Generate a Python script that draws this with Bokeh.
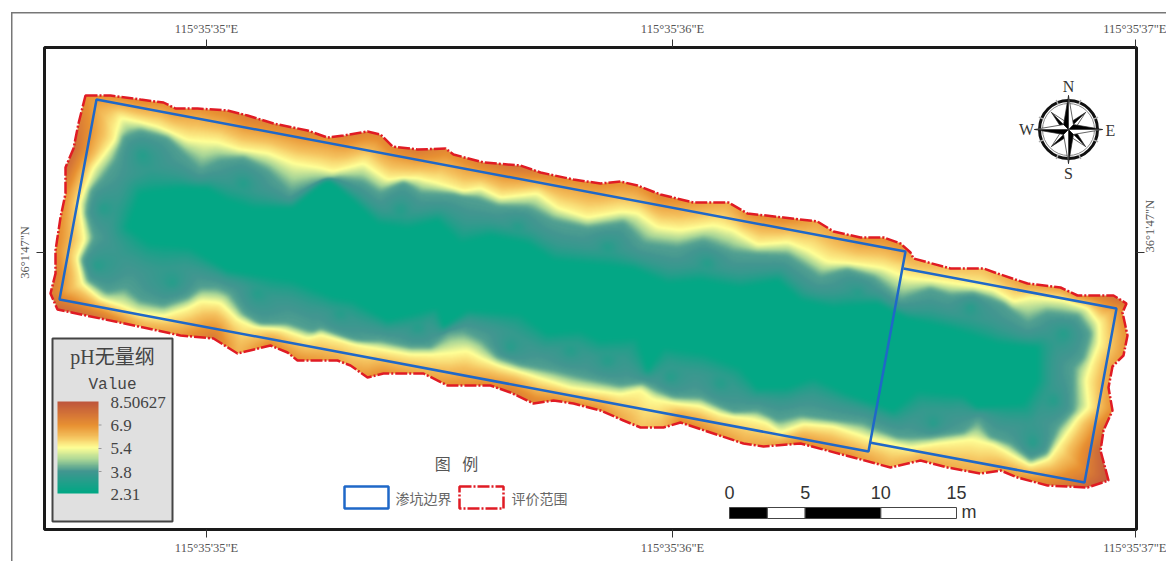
import numpy as np
from bokeh.plotting import figure
from bokeh.embed import file_html
from bokeh.resources import INLINE
from bokeh.core.properties import value
from bokeh.models import Range1d, LinearAxis, FixedTicker, LinearColorMapper

# ---- data (map position x, y and pH) ----
boundary_x = [85,110,140,163,175,197,227,247,273,307,327,343,367,380,392,417,445,453,483,520,540,573,600,620,
              637,660,693,728,747,783,817,833,860,883,900,910,913,950,983,997,1027,1060,1077,1113,1126,1122,1127,1123,1112,1108,1112,1103,1100,1108,1087,1047,1017,1000,980,947,920,890,
              853,800,763,743,713,680,663,640,623,600,573,553,533,510,490,447,423,383,367,350,337,
              297,287,270,237,213,180,143,100,57,50,55,55,60,65,65,73,78]
boundary_y = [95,95,99,102,108,108,110,115,123,130,137,135,131,134,146,149,148,154,162,165,172,179,183,181,
              185,194,202,202,213,217,221,231,237,237,243,252,258,268,268,273,283,287,295,295,303,312,335,355,366,387,410,430,450,480,487,485,477,470,473,467,460,467,
              457,443,446,443,433,422,427,427,420,410,403,400,403,392,385,385,373,373,377,365,360,
              360,352,345,353,338,335,327,318,309,293,273,250,217,193,167,148,123]
boundary_ph = [6.9,7.0,7.2,7.0,7.0,6.9,7.2,7.5,7.3,7.3,7.0,7.4,7.3,7.2,7.2,7.6,7.2,7.0,7.4,7.8,7.4,7.0,7.0,7.0,
               6.9,7.3,6.8,6.5,7.0,7.2,6.6,6.6,7.0,7.0,7.0,6.8,6.5,6.2,6.2,6.4,6.8,6.8,7.0,7.8,7.6,7.0,6.9,6.8,6.7,6.7,7.0,7.6,8.1,8.4,8.0,7.4,6.9,6.7,6.5,6.5,6.5,6.4,
               6.9,7.1,6.6,6.5,6.9,7.2,6.3,6.1,6.5,7.0,7.0,7.0,7.3,7.5,7.1,6.9,6.5,7.0,6.9,6.4,6.6,
               7.0,6.9,7.2,6.3,7.6,6.8,6.5,7.8,8.0,7.4,7.4,7.1,7.0,7.0,8.0,8.0,7.5]

contour54_x = [120,157,187,217,240,267,293,320,333,363,387,417,433,463,480,500,537,557,587,620,637,657,680,713,733,757,787,807,827,860,883,907,950,993,1013,1030,1063,1087,1098,1098,1090,1085,1088,1077,1063,1047,1030,1010,993,970,937,910,883,867,
               853,833,803,780,767,750,720,700,680,653,640,620,570,527,500,480,467,453,433,410,380,360,320,307,280,253,237,220,200,187,163,138,120,100,83,78,85,80,93,115]
contour54_y = [117,127,140,142,150,153,163,168,172,163,180,178,182,192,188,198,193,208,218,212,213,227,230,225,230,245,242,250,262,265,268,278,283,290,302,297,300,308,323,343,363,380,407,417,437,458,464,453,443,438,442,447,440,437,
               432,425,423,432,422,417,413,405,403,398,388,393,387,373,365,357,350,352,353,353,348,343,333,337,328,325,318,302,300,307,315,312,305,298,283,257,240,203,168,140]

contour39_x = [115,123,140,167,183,200,220,243,267,290,313,337,363,380,403,420,453,477,497,527,553,587,623,643,677,703,733,757,787,820,847,873,900,930,950,973,1003,1027,1047,1077,1090,1083,1073,1073,1073,1057,1047,1030,1010,990,978,963,930,897,873,863,833,800,777,757,733,700,673,643,620,587,553,520,497,483,463,447,430,410,380,360,353,320,313,287,260,243,230,217,200,187,163,140,125,107,87,80,93,85,90,103]
contour39_y = [160,137,130,137,153,170,160,157,170,193,183,177,182,193,180,193,193,198,205,207,220,227,222,243,247,240,252,253,255,277,268,277,300,288,295,292,303,323,312,315,333,357,367,387,410,427,453,460,443,437,418,432,437,437,427,422,420,415,420,410,413,397,397,383,385,378,370,365,357,340,330,332,347,347,340,342,342,328,332,323,325,313,293,287,287,297,305,300,287,292,280,260,237,213,190,177]

contour25_x = [140,180,207,227,253,293,327,363,377,407,437,460,490,527,553,587,633,667,700,740,777,800,833,877,907,950,997,1037,1037,1023,977,963,917,893,847,813,787,757,740,703,663,647,637,600,580,547,520,467,443,437,387,353,333,293,227,190,150,127]
contour25_y = [193,187,188,200,208,207,177,210,223,228,220,243,235,243,260,263,268,283,280,287,280,300,307,303,318,328,343,347,380,403,407,395,390,410,393,377,387,388,367,353,347,370,337,340,330,333,313,310,327,307,320,300,297,280,270,247,243,227]

spot_x = [142,103,97,172,243,257,340,400,417,340,510,570,517,607,707,670,720,607,857,1063,1053,1032,933,970]
spot_y = [155,208,265,282,183,293,193,210,327,313,347,350,227,247,263,377,383,360,293,333,400,442,423,307]

pit_x = [96,59,868,905]
pit_y = [99,299,451,251]
pit2_x = [903,1116,1084,869]
pit2_y = [268,308,482,442]

colour_ph = [2.31, 3.8, 4.6, 5.4, 6.1, 6.9, 8.50627]
colour_rgb = [(0,168,132),(66,150,144),(170,214,150),(255,255,150),(245,195,95),(232,145,50),(190,85,60)]

lon_ticks = {206:"115°35'35\"E", 672:"115°35'36\"E", 1135:"115°35'37\"E"}
lat_ticks = {252:"36°1'47\"N"}
legend_title = "pH无量纲"
legend_sub = "Value"
ramp_labels = ["8.50627","6.9","5.4","3.8","2.31"]
scale_labels = ["0","5","10","15"]
scale_m = [0, 2.5, 5, 10, 15]

# ---- helpers ----
def inside(px, py, X, Y):
    X = np.asarray(X, float); Y = np.asarray(Y, float)
    res = np.zeros(px.shape, bool)
    for i in range(len(X)):
        x1, y1, x2, y2 = X[i], Y[i], X[(i+1) % len(X)], Y[(i+1) % len(X)]
        if y1 == y2:
            continue
        c = ((y1 > py) != (y2 > py)) & (px < (x2-x1)*(py-y1)/(y2-y1)+x1)
        res ^= c
    return res

def seg_dist(px, py, X, Y, vals=None):
    X = np.asarray(X, float); Y = np.asarray(Y, float)
    X2 = np.roll(X, -1); Y2 = np.roll(Y, -1)
    dx = X2-X; dy = Y2-Y
    L2 = dx*dx+dy*dy
    out = np.zeros(px.shape); ov = np.zeros(px.shape)
    V = None if vals is None else np.asarray(vals, float)
    V2 = None if V is None else np.roll(V, -1)
    for s in range(0, len(px), 20000):
        a = px[s:s+20000, None]; b = py[s:s+20000, None]
        t = np.clip(((a-X)*dx+(b-Y)*dy)/L2, 0, 1)
        d = np.hypot(a-(X+t*dx), b-(Y+t*dy))
        k = d.argmin(1)
        r = np.arange(len(k))
        out[s:s+20000] = d[r, k]
        if V is not None:
            ov[s:s+20000] = V[k]+t[r, k]*(V2[k]-V[k])
    return out, ov

def pt_dist(px, py, X, Y):
    out = np.full(px.shape, 1e9)
    for x, y in zip(X, Y):
        out = np.minimum(out, np.hypot(px-x, py-y))
    return out

def soften(arr, m, sigma=2.2):
    k = np.exp(-0.5*(np.arange(-7, 8)/sigma)**2); k /= k.sum()
    num = np.where(m, arr, 0.0); den = m.astype(float)
    for ax in (0, 1):
        num = np.apply_along_axis(lambda r: np.convolve(r, k, "same"), ax, num)
        den = np.apply_along_axis(lambda r: np.convolve(r, k, "same"), ax, den)
    return num/np.maximum(den, 1e-6)

# ---- field raster ----
x0, x1, y0, y1 = 44, 1136, 85, 495
gx, gy = np.meshgrid(np.arange(x0, x1)+0.5, np.arange(y0, y1)+0.5)
field = np.full(gx.shape, np.nan)
mask = inside(gx, gy, boundary_x, boundary_y)
px, py = gx[mask], gy[mask]
dB, vB = seg_dist(px, py, boundary_x, boundary_y, boundary_ph)
dY, _ = seg_dist(px, py, contour54_x, contour54_y)
dT, _ = seg_dist(px, py, contour39_x, contour39_y)
dC, _ = seg_dist(px, py, contour25_x, contour25_y)
dS = pt_dist(px, py, spot_x, spot_y)
inY = inside(px, py, contour54_x, contour54_y)
inT = inside(px, py, contour39_x, contour39_y) & inY
inC = inside(px, py, contour25_x, contour25_y) & inT
v = 5.4+dY/(dY+dB+1e-6)*(vB-5.4)
v[inY] = (5.4-dY/(dY+dT+1e-6)*1.5)[inY]
tc = dT/(dT+dC+1e-6); ts = dT/(dT+dS+1e-6)
vt = 3.9-np.maximum(1.5*tc**2.6, 0.9*ts**2.0)
v[inT] = vt[inT]
v[inC] = 2.4
field[mask] = v
field = np.where(mask, soften(field, mask), np.nan)

palette = []
for q in np.linspace(2.31, 8.50627, 256):
    c = [int(round(np.interp(q, colour_ph, [r[i] for r in colour_rgb]))) for i in range(3)]
    palette.append("#%02x%02x%02x" % tuple(c))
mapper = LinearColorMapper(palette=palette, low=2.31, high=8.50627, nan_color=(0,0,0,0))

# ---- figure: frame is the map neatline ----
sheet = "#777777"
p = figure(width=1166, height=561, output_backend="svg", toolbar_location=None,
           x_range=Range1d(44, 1136), y_range=Range1d(529, 47),
           min_border_left=44, min_border_right=30, min_border_top=47, min_border_bottom=32,
           x_axis_location=None, y_axis_location=None, background_fill_color="white",
           border_fill_color=None,
           outline_line_color="#1a1a1a", outline_line_width=3)
p.grid.visible = False
# outer sheet line behind the canvas
p.styles = {"background": f"linear-gradient({sheet},{sheet}) 11px 12px / 1155px 1.5px no-repeat, "
                          f"linear-gradient({sheet},{sheet}) 11px 12px / 1.5px 549px no-repeat, white"}

serif = "Liberation Serif"
def mk_axis(ticks, orient=None, standoff=5):
    a = LinearAxis(ticker=FixedTicker(ticks=list(ticks)), major_label_overrides=dict(ticks),
                   axis_line_color=None, major_tick_line_color="#333333", major_tick_line_width=1,
                   major_tick_out=8, major_tick_in=0, minor_tick_line_color=None,
                   major_label_text_font=serif, major_label_text_font_size="12.5px",
                   major_label_text_color="#555555", major_label_standoff=standoff)
    if orient is not None:
        a.major_label_orientation = orient
    return a
p.add_layout(mk_axis(lon_ticks, standoff=4), "above")
p.add_layout(mk_axis(lon_ticks, standoff=3), "below")
p.add_layout(mk_axis(lat_ticks, "vertical"), "left")
p.add_layout(mk_axis(lat_ticks, float(np.pi/2)), "right")

p.image(image=[field], x=x0, y=y0, dw=x1-x0, dh=y1-y0, color_mapper=mapper)

red = "#e01b24"; blue = "#1f68c8"
p.patch(boundary_x, boundary_y, fill_alpha=0, line_color=red, line_width=2.5, line_dash="12 2 2 2")
p.patch(pit_x, pit_y, fill_alpha=0, line_color=blue, line_width=2.5)
p.line([pit2_x[3], pit2_x[2], pit2_x[1], pit2_x[0]], [pit2_y[3], pit2_y[2], pit2_y[1], pit2_y[0]],
       line_color=blue, line_width=2.5)

# ---- pH legend ----
p.quad(left=[52], right=[172], top=[338], bottom=[521], fill_color="#e0e0e0",
       line_color="#444444", line_width=2)
ramp = np.linspace(8.50627, 2.31, 200)[:, None]
p.image(image=[ramp], x=57, y=401, dw=41, dh=92, color_mapper=mapper)
p.segment(x0=[98]*3, x1=[101]*3, y0=[424.5, 448, 471], y1=[424.5, 448, 471], line_color="#999999")
font_mix = "Liberation Serif, Noto Sans CJK SC"
p.text(x=[112], y=[356], text=[legend_title], text_font=value(font_mix), text_font_size="20px",
       text_color="#444444", text_align="center", text_baseline="middle")
p.text(x=[112], y=[384], text=[legend_sub], text_font=value("Liberation Mono"), text_font_size="16px",
       text_color="#444444", text_align="center", text_baseline="middle")
p.text(x=[110]*5, y=[402, 425, 448, 472, 494], text=ramp_labels, text_font=value(serif),
       text_font_size="17px", text_color="#444444", text_baseline="middle")

# ---- symbol legend ----
cjk = "Noto Sans CJK SC"
p.text(x=[456], y=[462], text=["图\u2002 例"], text_font=value(cjk), text_font_size="16px",
       text_color="#555555", text_align="center", text_baseline="middle")
p.quad(left=[344], right=[388], top=[486], bottom=[508], fill_alpha=0, line_color=blue, line_width=2.5)
p.quad(left=[459], right=[503], top=[486], bottom=[508], fill_alpha=0, line_color=red, line_width=2.5,
       line_dash="12 2 2 2")
p.text(x=[395, 511], y=[497, 497], text=["渗坑边界", "评价范围"], text_font=value(cjk),
       text_font_size="14px", text_color="#666666", text_baseline="middle")

# ---- scale bar ----
sx = lambda m: 729+np.asarray(m)*(956-729)/15
edges = sx(scale_m)
p.quad(left=edges[:-1], right=edges[1:], top=[507]*4, bottom=[518]*4,
       fill_color=["black", "white", "black", "white"], line_color="#444444", line_width=1)
p.text(x=sx([0, 5, 10, 15]), y=[492]*4, text=scale_labels, text_font=value("Liberation Sans"),
       text_font_size="18px", text_color="#333333", text_align="center", text_baseline="middle")
p.text(x=[961], y=[511], text=["m"], text_font=value("Liberation Sans"), text_font_size="18px",
       text_color="#333333", text_baseline="middle")

# ---- north arrow ----
cx, cy = 1068, 129
p.circle(x=[cx], y=[cy], radius=29, fill_alpha=0, line_color="#111111", line_width=3)
p.circle(x=[cx], y=[cy], radius=26, fill_alpha=0, line_color="#888888", line_width=1)
tick_deg = np.arange(22.5, 360, 45)
p.segment(x0=cx+27*np.cos(np.radians(tick_deg)), y0=cy+27*np.sin(np.radians(tick_deg)),
          x1=cx+32*np.cos(np.radians(tick_deg)), y1=cy+32*np.sin(np.radians(tick_deg)),
          line_color="#aaaaaa", line_width=1.5)
def star(r, w, start):
    xs, ys, cs = [], [], []
    for ang in np.arange(start, start+360, 90):
        a = np.radians(ang)
        for sgn, col in ((-1, "black"), (1, "white")):
            b = np.radians(ang+sgn*45)
            xs.append([cx, cx+r*np.cos(a), cx+w*np.cos(b)])
            ys.append([cy, cy+r*np.sin(a), cy+w*np.sin(b)])
            cs.append(col)
    return xs, ys, cs
for r, w, s in ((24, 6, 45), (34, 7, 0)):
    xs, ys, cs = star(r, w, s)
    p.patches(xs, ys, fill_color=cs, line_color="#222222", line_width=0.7)
p.text(x=[1068, 1068, 1026, 1110], y=[86, 173, 129, 130], text=["N", "S", "W", "E"],
       text_font=value(serif), text_font_size="16px", text_color="#333333",
       text_align="center", text_baseline="middle")

open("out.html", "w").write(file_html(p, INLINE))
